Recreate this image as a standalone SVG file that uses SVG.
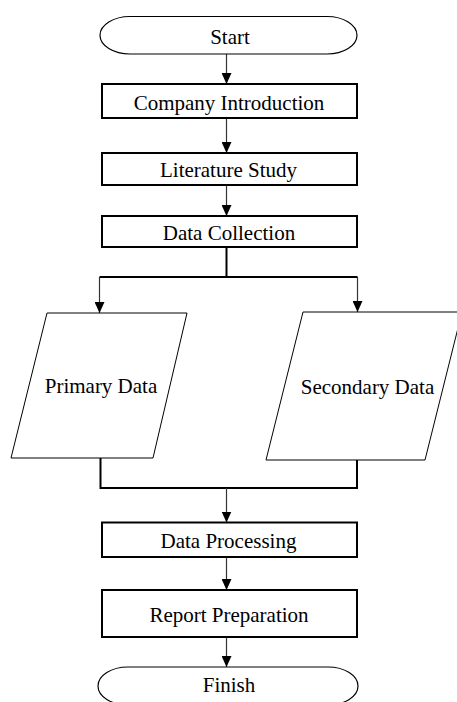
<svg xmlns="http://www.w3.org/2000/svg" width="457" height="702" viewBox="0 0 457 702">
<style>
text{font-family:'Liberation Serif','Times New Roman',Times,serif;font-size:21px;fill:#000;text-anchor:middle}
.box{fill:#fff;stroke:#000;stroke-width:2}
.term{fill:#fff;stroke:#000;stroke-width:1.2}
.para{fill:#fff;stroke:#000;stroke-width:1}
.arr{fill:none;stroke:#333;stroke-width:1.2;marker-end:url(#ah)}
.thick{fill:none;stroke:#000;stroke-width:2}
</style>
<defs>
<marker id="ah" markerUnits="userSpaceOnUse" markerWidth="11" markerHeight="10" refX="11" refY="5" orient="auto">
<path d="M0,0 L11,5 L0,10 z" fill="#000"/>
</marker>
</defs>
<rect width="457" height="702" fill="#fff"/>
<g id="connectors">
<path class="arr" d="M226.5,54 V84"/>
<path class="arr" d="M226.5,118 V153"/>
<path class="arr" d="M226.5,185 V216"/>
<path class="thick" d="M226.5,247 V277"/>
<path class="thick" d="M99.5,277 H357.5"/>
<path class="arr" d="M99.5,277 V313"/>
<path class="arr" d="M357.5,277 V312"/>
<path class="thick" d="M100.5,458 V488 H357 V460"/>
<path class="arr" d="M226.5,488 V522.5"/>
<path class="arr" d="M226.5,557 V590"/>
<path class="arr" d="M226.5,637 V667"/>
</g>
<g id="start">
<rect class="term" x="100" y="16.5" width="257" height="37.5" rx="30" ry="18.75"/>
<text x="230" y="44" font-family="Liberation Serif, serif">Start</text>
</g>
<g id="company-introduction">
<rect class="box" x="102" y="84" width="255" height="34"/>
<text x="229" y="109.5" font-family="Liberation Serif, serif">Company Introduction</text>
</g>
<g id="literature-study">
<rect class="box" x="102" y="153" width="255" height="32"/>
<text x="228.5" y="177" font-family="Liberation Serif, serif">Literature Study</text>
</g>
<g id="data-collection">
<rect class="box" x="102" y="216" width="255" height="31"/>
<text x="229" y="240" font-family="Liberation Serif, serif">Data Collection</text>
</g>
<g id="primary-data">
<polygon class="para" points="47,313 187,313 153,458 11,458"/>
<text x="101" y="393" font-family="Liberation Serif, serif">Primary Data</text>
</g>
<g id="secondary-data">
<polygon class="para" points="303,312 462,312 425,460 266,460"/>
<text x="367.5" y="394" font-family="Liberation Serif, serif">Secondary Data</text>
</g>
<g id="data-processing">
<rect class="box" x="102" y="522.5" width="255" height="34.5"/>
<text x="228.5" y="548" font-family="Liberation Serif, serif">Data Processing</text>
</g>
<g id="report-preparation">
<rect class="box" x="102" y="590" width="255" height="47"/>
<text x="229" y="622" font-family="Liberation Serif, serif">Report Preparation</text>
</g>
<g id="finish">
<rect class="term" x="98" y="667" width="260" height="38" rx="30" ry="19"/>
<text x="229" y="692" font-family="Liberation Serif, serif">Finish</text>
</g>
</svg>
